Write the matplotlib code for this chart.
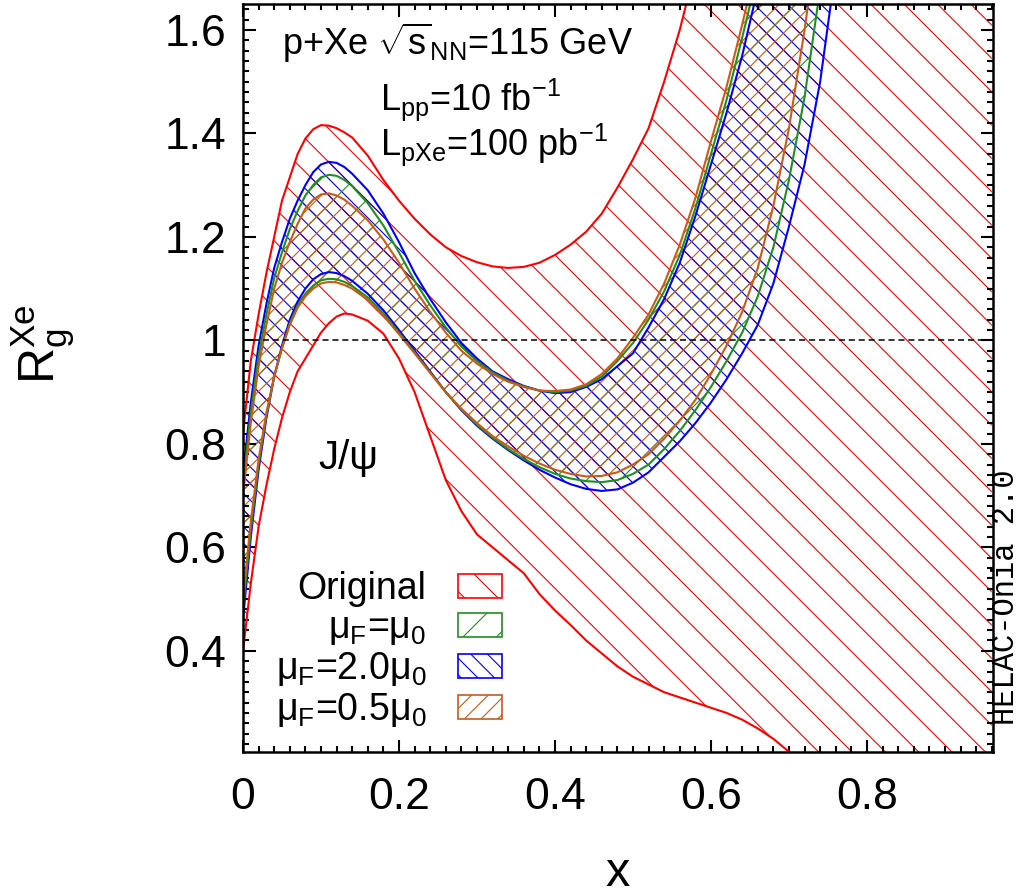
import matplotlib
matplotlib.use("Agg")
import matplotlib.pyplot as plt
from matplotlib.patches import Patch
from matplotlib.ticker import MultipleLocator, FixedLocator, FixedFormatter

plt.rcParams["font.family"] = ["Liberation Sans", "DejaVu Sans"]
plt.rcParams["mathtext.fontset"] = "custom"
plt.rcParams["mathtext.rm"] = "Liberation Sans"
plt.rcParams["mathtext.it"] = "Liberation Sans:italic"
plt.rcParams["hatch.linewidth"] = 0.8

# --- data ---
x = [0.00, 0.01, 0.02, 0.03, 0.04, 0.05, 0.06, 0.07, 0.08, 0.09,
     0.10, 0.11, 0.12, 0.13, 0.14, 0.16, 0.18, 0.20, 0.22, 0.24,
     0.26, 0.28, 0.30, 0.32, 0.34, 0.36, 0.38, 0.40, 0.42, 0.44,
     0.46, 0.48, 0.50, 0.52, 0.54, 0.56, 0.58, 0.60, 0.62, 0.64,
     0.66, 0.68, 0.70, 0.72, 0.74, 0.76, 0.80, 0.88, 0.96]

orig_hi = [0.82, 0.96, 1.05, 1.13, 1.20, 1.27, 1.315, 1.36, 1.39, 1.408,
           1.416, 1.415, 1.41, 1.402, 1.392, 1.357, 1.31, 1.27, 1.235, 1.205,
           1.18, 1.163, 1.151, 1.143, 1.14, 1.142, 1.15, 1.165, 1.185, 1.21,
           1.245, 1.295, 1.35, 1.41, 1.50, 1.60, 1.72, 1.85, 2.0, 2.15,
           2.3, 2.45, 2.6, 2.75, 2.9, 3.0, 3.2, 3.5, 3.8]
orig_lo = [0.40, 0.53, 0.64, 0.72, 0.79, 0.85, 0.90, 0.94, 0.965, 0.99,
           1.015, 1.033, 1.046, 1.052, 1.05, 1.038, 1.013, 0.965, 0.90, 0.815,
           0.73, 0.67, 0.625, 0.60, 0.575, 0.55, 0.51, 0.478, 0.45, 0.42,
           0.395, 0.37, 0.35, 0.335, 0.32, 0.31, 0.30, 0.29, 0.28, 0.267,
           0.25, 0.23, 0.205, 0.18, 0.15, 0.12, 0.08, 0.02, -0.05]

# scale variations (values given up to x = 0.76, beyond that out of range)
mu1_hi = [0.72, 0.86, 0.97, 1.05, 1.12, 1.17, 1.215, 1.25, 1.28, 1.30,
          1.315, 1.32, 1.318, 1.31, 1.298, 1.265, 1.222, 1.17, 1.115, 1.068,
          1.025, 0.988, 0.96, 0.938, 0.922, 0.911, 0.903, 0.90, 0.903, 0.912,
          0.93, 0.96, 0.995, 1.04, 1.095, 1.165, 1.255, 1.36, 1.465, 1.585,
          1.71, 1.85, 2.0, 2.15, 2.3, 2.45]
mu1_lo = [0.48, 0.635, 0.76, 0.855, 0.93, 0.985, 1.033, 1.067, 1.09, 1.106,
          1.116, 1.119, 1.118, 1.113, 1.105, 1.083, 1.052, 1.015, 0.977, 0.938,
          0.90, 0.866, 0.837, 0.812, 0.79, 0.771, 0.755, 0.742, 0.733, 0.728,
          0.726, 0.73, 0.742, 0.76, 0.79, 0.825, 0.865, 0.91, 0.96, 1.015,
          1.085, 1.18, 1.31, 1.47, 1.68, 1.92]
mu2_hi = [0.74, 0.88, 0.99, 1.07, 1.14, 1.19, 1.235, 1.27, 1.30, 1.325,
          1.34, 1.345, 1.343, 1.335, 1.322, 1.29, 1.245, 1.19, 1.13, 1.08,
          1.035, 0.995, 0.965, 0.94, 0.925, 0.912, 0.903, 0.898, 0.90, 0.91,
          0.925, 0.95, 0.975, 1.025, 1.08, 1.15, 1.24, 1.34, 1.44, 1.55,
          1.68, 1.82, 1.97, 2.12, 2.27, 2.42]
mu2_lo = [0.46, 0.62, 0.75, 0.85, 0.93, 0.99, 1.04, 1.075, 1.10, 1.118,
          1.128, 1.132, 1.13, 1.124, 1.115, 1.09, 1.058, 1.02, 0.98, 0.94,
          0.90, 0.865, 0.835, 0.81, 0.788, 0.768, 0.75, 0.735, 0.722, 0.713,
          0.709, 0.712, 0.725, 0.745, 0.775, 0.805, 0.84, 0.88, 0.925, 0.975,
          1.03, 1.11, 1.22, 1.34, 1.50, 1.72]
mu05_hi = [0.70, 0.84, 0.95, 1.03, 1.10, 1.15, 1.19, 1.225, 1.255, 1.272,
           1.282, 1.284, 1.28, 1.272, 1.26, 1.232, 1.195, 1.15, 1.10, 1.055,
           1.015, 0.98, 0.955, 0.935, 0.92, 0.91, 0.903, 0.902, 0.905, 0.915,
           0.935, 0.965, 1.005, 1.05, 1.11, 1.185, 1.275, 1.385, 1.49, 1.61,
           1.74, 1.88, 2.03, 2.18, 2.33, 2.48]
mu05_lo = [0.50, 0.65, 0.77, 0.86, 0.93, 0.985, 1.03, 1.063, 1.085, 1.10,
           1.11, 1.113, 1.112, 1.107, 1.10, 1.078, 1.048, 1.012, 0.975, 0.937,
           0.90, 0.868, 0.84, 0.815, 0.795, 0.777, 0.762, 0.75, 0.742, 0.737,
           0.738, 0.745, 0.76, 0.78, 0.81, 0.845, 0.885, 0.935, 0.99, 1.055,
           1.14, 1.26, 1.41, 1.60, 1.82, 2.05]

series_labels = ["Original", "μ$_\\mathrm{F}$=μ$_0$",
                 "μ$_\\mathrm{F}$=2.0μ$_0$", "μ$_\\mathrm{F}$=0.5μ$_0$"]
xtick_vals = [0, 0.2, 0.4, 0.6, 0.8]
xtick_labels = ["0", "0.2", "0.4", "0.6", "0.8"]
ytick_vals = [0.4, 0.6, 0.8, 1.0, 1.2, 1.4, 1.6]
ytick_labels = ["0.4", "0.6", "0.8", "1", "1.2", "1.4", "1.6"]

RED = "#ff0000"
GREEN = "#1f8f1f"
BLUE = "#0000ff"
ORANGE = "#cc5a14"

# --- figure ---
fig = plt.figure(figsize=(10.21, 8.96), dpi=100)
ax = fig.add_axes([0.238, 0.161, 0.7345, 0.8345])

bands = [
    (orig_hi, orig_lo, RED, "\\"),
    (mu2_hi, mu2_lo, BLUE, "\\\\"),
    (mu1_hi, mu1_lo, GREEN, "/"),
    (mu05_hi, mu05_lo, ORANGE, "//"),
]
for hi, lo, col, hatch in bands:
    xs = x[:len(hi)]
    ax.fill_between(xs, lo, hi, facecolor="none", edgecolor=col,
                    hatch=hatch, linewidth=0)
for hi, lo, col, hatch in bands:
    xs = x[:len(hi)]
    ax.plot(xs, hi, color=col, lw=1.5)
    ax.plot(xs, lo, color=col, lw=1.5)

ax.axhline(1.0, color="black", lw=1.1, ls=(0, (4, 2.5)))

ax.set_xlim(0, 0.9615)
ax.set_ylim(0.205, 1.65)

ax.xaxis.set_major_locator(FixedLocator(xtick_vals))
ax.xaxis.set_major_formatter(FixedFormatter(xtick_labels))
ax.yaxis.set_major_locator(FixedLocator(ytick_vals))
ax.yaxis.set_major_formatter(FixedFormatter(ytick_labels))
ax.xaxis.set_minor_locator(MultipleLocator(0.02))
ax.yaxis.set_minor_locator(MultipleLocator(0.02))
ax.tick_params(which="both", direction="in", top=True, right=True, width=1.5)
ax.tick_params(which="major", length=9, labelsize=32)
ax.tick_params(which="minor", length=4.5)
ax.tick_params(axis="x", which="major", pad=18)
ax.tick_params(axis="y", which="major", pad=12)
for sp in ax.spines.values():
    sp.set_linewidth(1.8)

ax.set_xlabel("x", fontsize=35)
ax.xaxis.set_label_coords(0.5, -0.133)
ax.set_ylabel("R$_\\mathrm{g}^\\mathrm{Xe}$", fontsize=36)
ax.yaxis.set_label_coords(-0.222, 0.545)

# --- annotations ---
ax.text(0.05, 1.575, "p+Xe $\\sqrt{\\mathrm{s}}_\\mathrm{NN}$=115 GeV",
        fontsize=26, ha="left", va="center")
ax.text(0.176, 1.466, "L$_\\mathrm{pp}$=10 fb$^{-1}$",
        fontsize=26, ha="left", va="center")
ax.text(0.176, 1.378, "L$_\\mathrm{pXe}$=100 pb$^{-1}$",
        fontsize=26, ha="left", va="center")
ax.text(0.135, 0.772, "J/ψ", fontsize=29, ha="center", va="center")

handles = [Patch(facecolor="white", edgecolor=col, hatch=hatch, lw=1.2)
           for _, _, col, hatch in [bands[0], bands[2], bands[1], bands[3]]]
ax.legend(handles, series_labels, loc="lower left",
          bbox_to_anchor=(0.009, -0.005), markerfirst=False, frameon=False,
          fontsize=27, handlelength=1.15, handleheight=0.58,
          handletextpad=0.85, labelspacing=0.08, borderpad=0.2)

fig.text(1.0, 0.333, "HELAC-Onia 2.0", rotation=90, ha="right",
         va="center", family="Liberation Mono", fontsize=22)

fig.savefig("out.png", dpi=100, facecolor="white")
